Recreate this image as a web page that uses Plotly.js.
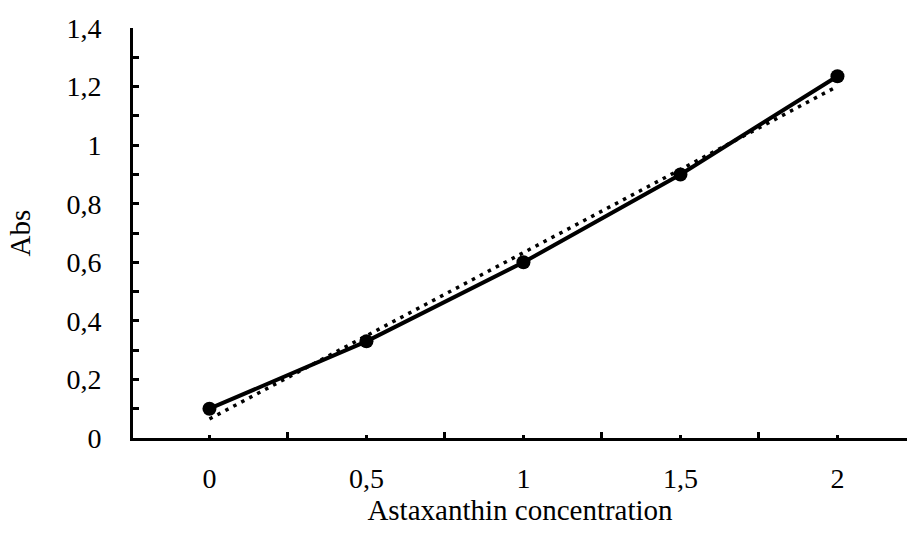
<!DOCTYPE html>
<html>
<head>
<meta charset="utf-8">
<script src="https://cdn.plot.ly/plotly-3.0.1.min.js"></script>
<style>html,body{margin:0;padding:0;background:#fff;}#chart{width:907px;height:533px;}</style>
</head>
<body>
<div id="chart"></div>
<script>
const categories = ["0", "0,5", "1", "1,5", "2"];
const absValues = [0.1, 0.33, 0.6, 0.9, 1.235];
const yTickVals = [0, 0.2, 0.4, 0.6, 0.8, 1, 1.2, 1.4];
const yTickText = ["0", "0,2", "0,4", "0,6", "0,8", "1", "1,2", "1,4"];

const xIdx = categories.map((c, i) => i);
// linear trendline (least squares) computed from the data
const n = xIdx.length;
const mx = xIdx.reduce((a, b) => a + b, 0) / n;
const my = absValues.reduce((a, b) => a + b, 0) / n;
let sxy = 0, sxx = 0;
for (let i = 0; i < n; i++) { sxy += (xIdx[i] - mx) * (absValues[i] - my); sxx += (xIdx[i] - mx) ** 2; }
const slope = sxy / sxx, icpt = my - slope * mx;
const trendX = [xIdx[0], xIdx[n - 1]];
const trendY = trendX.map(x => icpt + slope * x);

const font = {family: "'Liberation Serif', 'Times New Roman', serif", color: "#000"};

const data = [
  {x: trendX, y: trendY, mode: "lines", line: {color: "#000", width: 3.5, dash: "3.5px,5.5px"}, hoverinfo: "skip", showlegend: false},
  {x: xIdx, y: absValues, mode: "lines+markers", line: {color: "#000", width: 4}, marker: {color: "#000", size: 14}, showlegend: false}
];

const layout = {
  width: 907, height: 533,
  margin: {l: 133, r: 0, t: 28, b: 95},
  paper_bgcolor: "#fff", plot_bgcolor: "#fff",
  font: Object.assign({size: 28}, font),
  xaxis: {
    range: [-0.487, 4.443], showgrid: false, zeroline: false,
    showline: true, linecolor: "#000", linewidth: 3,
    tickmode: "array", tickvals: xIdx, ticktext: categories,
    ticks: "inside", ticklen: 3, tickwidth: 3, tickcolor: "#000",
    ticklabelstandoff: 13,
    tickfont: Object.assign({size: 28}, font),
    minor: {tickmode: "linear", tick0: -0.5, dtick: 1, ticks: "inside", ticklen: 6, tickwidth: 3, tickcolor: "#000", showgrid: false},
    title: {text: "Astaxanthin concentration", font: Object.assign({size: 29}, font), standoff: 1}
  },
  yaxis: {
    range: [0, 1.4], showgrid: false, zeroline: false,
    showline: true, linecolor: "#000", linewidth: 3,
    tickmode: "array", tickvals: yTickVals, ticktext: yTickText,
    ticks: "inside", ticklen: 6, tickwidth: 3, tickcolor: "#000",
    ticklabelstandoff: 23,
    tickfont: Object.assign({size: 28}, font),
    minor: {tickmode: "linear", tick0: 0.1, dtick: 0.2, ticks: "inside", ticklen: 6, tickwidth: 3, tickcolor: "#000", showgrid: false},
    title: {text: "Abs", font: Object.assign({size: 29}, font), standoff: 28}
  }
};

Plotly.newPlot("chart", data, layout, {displayModeBar: false, staticPlot: true});
</script>
</body>
</html>
